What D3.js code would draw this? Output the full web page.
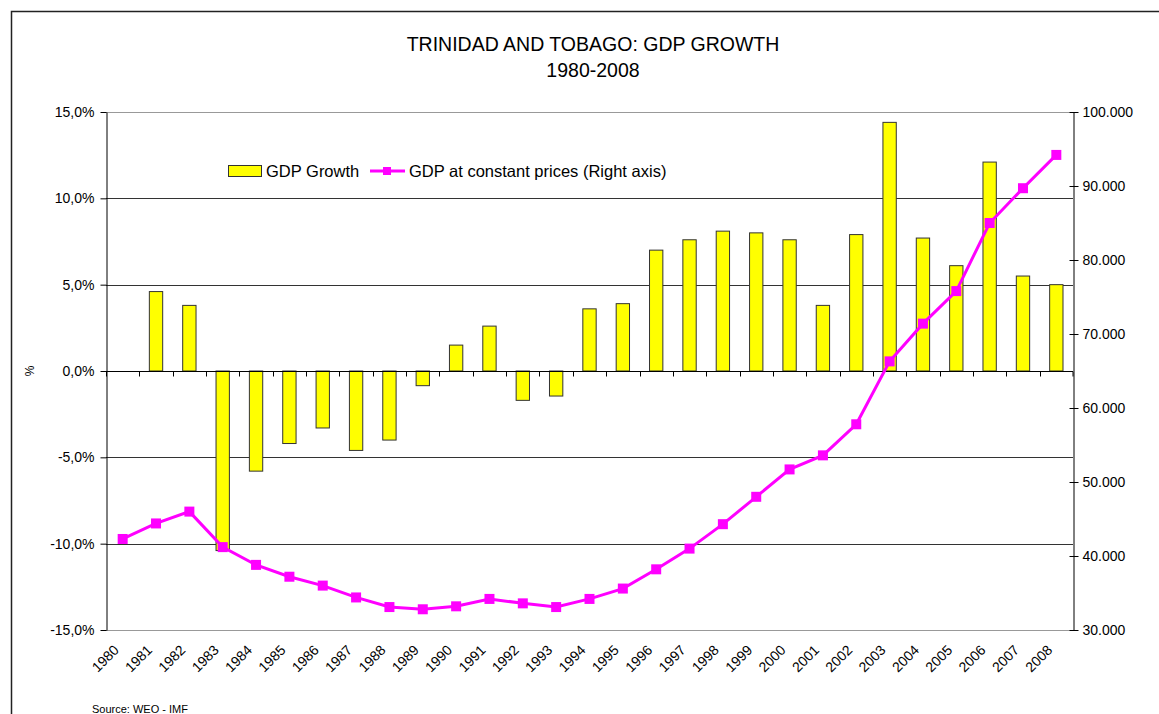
<!DOCTYPE html>
<html>
<head>
<meta charset="utf-8">
<script src="https://cdn.jsdelivr.net/npm/d3@7"></script>
<style>
	body { margin: 0; background: #fff; }
	svg { display: block; font-family: "Liberation Sans", Arial, sans-serif; }
</style>
</head>
<body>
<div class="chart"></div>
<script>
const years = ["1980","1981","1982","1983","1984","1985","1986","1987","1988","1989","1990","1991","1992","1993","1994",
	"1995","1996","1997","1998","1999","2000","2001","2002","2003","2004","2005","2006","2007","2008"];
// GDP growth, % (left axis)
const gdpGrowth = [null, 4.6, 3.8, -10.4, -5.8, -4.2, -3.3, -4.6, -4.0, -0.85, 1.5, 2.6, -1.7, -1.45, 3.6,
	3.9, 7.0, 7.6, 8.1, 8.0, 7.6, 3.8, 7.9, 14.4, 7.7, 6.1, 12.1, 5.5, 5.0];
// GDP at constant prices (right axis)
const gdpConstant = [42300, 44400, 46000, 41200, 38800, 37200, 36000, 34400, 33100, 32800, 33200, 34200, 33600, 33100, 34200,
	35600, 38200, 41000, 44300, 48000, 51700, 53600, 57800, 66300, 71400, 75800, 85000, 89700, 94200];
const leftTicks = [-15, -10, -5, 0, 5, 10, 15];
const rightTicks = [30000, 40000, 50000, 60000, 70000, 80000, 90000, 100000];

const width = 1159, height = 714;
const plot = {left: 106, right: 1073, top: 112, bottom: 630};
const barColor = "#ffff00";
const lineColor = "#ff00ff";

const locale = d3.formatLocale({decimal: ",", thousands: ".", grouping: [3], currency: ["", ""], minus: "-"});
const fmtLeft = d => locale.format(".1f")(d) + "%";
const fmtRight = locale.format(",.0f");

const svg = d3.select("div.chart").append("svg")
	.attr("width", width)
	.attr("height", height);

// chart frame
svg.append("path")
	.attr("d", "M11.5," + height + " V11.5 H" + width)
	.attr("fill", "none")
	.attr("stroke", "#222")
	.attr("stroke-width", 1.5);

const x = d3.scaleBand().domain(years).range([plot.left, plot.right]);
const yL = d3.scaleLinear().domain([-15, 15]).range([plot.bottom, plot.top]);
const yR = d3.scaleLinear().domain([30000, 100000]).range([plot.bottom, plot.top]);

// plot border top / bottom
svg.append("g").selectAll("line").data([15, -15]).join("line")
	.attr("x1", plot.left).attr("x2", plot.right)
	.attr("y1", d => Math.round(yL(d)) + 0.5).attr("y2", d => Math.round(yL(d)) + 0.5)
	.attr("stroke", "#999");

// gridlines
svg.append("g").selectAll("line").data(leftTicks.filter(d => Math.abs(d) < 15 && d !== 0)).join("line")
	.attr("x1", plot.left).attr("x2", plot.right)
	.attr("y1", d => Math.round(yL(d)) + 0.5).attr("y2", d => Math.round(yL(d)) + 0.5)
	.attr("stroke", "#333");

// bars
const barW = x.bandwidth() * 0.4;
svg.append("g").selectAll("rect").data(years.map((y, i) => ({year: y, v: gdpGrowth[i]})).filter(d => d.v !== null))
	.join("rect")
	.attr("x", d => x(d.year) + (x.bandwidth() - barW) / 2)
	.attr("y", d => yL(Math.max(0, d.v)))
	.attr("width", barW)
	.attr("height", d => Math.abs(yL(d.v) - yL(0)))
	.attr("fill", barColor)
	.attr("stroke", "#333")
	.attr("stroke-width", 1);

// category axis at zero
const zeroY = Math.round(yL(0)) + 0.5;
svg.append("line")
	.attr("x1", plot.left).attr("x2", plot.right)
	.attr("y1", zeroY).attr("y2", zeroY)
	.attr("stroke", "#000");
svg.append("g").selectAll("line").data(years.concat(["end"])).join("line")
	.attr("x1", d => d === "end" ? plot.right : Math.round(x(d)) + 0.5)
	.attr("x2", d => d === "end" ? plot.right : Math.round(x(d)) + 0.5)
	.attr("y1", zeroY).attr("y2", zeroY + 5)
	.attr("stroke", "#000");

// year labels
svg.append("g").selectAll("text").data(years).join("text")
	.attr("transform", d => "translate(" + (x(d) + x.bandwidth() / 2 - 3) + "," + (plot.bottom + 21) + ") rotate(-45)")
	.attr("text-anchor", "end")
	.attr("font-size", 14)
	.attr("fill", "#000")
	.text(d => d);

// left axis
const axL = svg.append("g")
	.attr("transform", "translate(" + (plot.left + 0.5) + ",0)")
	.call(d3.axisLeft(yL).tickValues(leftTicks).tickFormat(fmtLeft).tickSize(6).tickPadding(6).tickSizeOuter(0));
axL.select(".domain").attr("stroke", "#000");
axL.selectAll("text").attr("font-size", 14).attr("font-family", "Liberation Sans, Arial, sans-serif").attr("fill", "#000");

// right axis
const axR = svg.append("g")
	.attr("transform", "translate(" + (plot.right + 0.5) + ",0)")
	.call(d3.axisRight(yR).tickValues(rightTicks).tickFormat(fmtRight).tickSize(5).tickPadding(4).tickSizeOuter(0));
axR.select(".domain").attr("stroke", "#000");
axR.selectAll(".tick line").attr("x1", -4);
axR.selectAll("text").attr("font-size", 14).attr("font-family", "Liberation Sans, Arial, sans-serif").attr("fill", "#000");

// "%" axis title
svg.append("text")
	.attr("transform", "translate(34," + yL(0) + ") rotate(-90)")
	.attr("text-anchor", "middle")
	.attr("font-size", 12)
	.text("%");

// GDP at constant prices line
const pts = years.map((y, i) => [x(y) + x.bandwidth() / 2, yR(gdpConstant[i])]);
svg.append("path")
	.attr("d", d3.line()(pts))
	.attr("fill", "none")
	.attr("stroke", lineColor)
	.attr("stroke-width", 3);
svg.append("g").selectAll("rect").data(pts).join("rect")
	.attr("x", d => d[0] - 5).attr("y", d => d[1] - 5)
	.attr("width", 10).attr("height", 10)
	.attr("fill", lineColor);

// legend
const lg = svg.append("g");
lg.append("rect").attr("x", 228.5).attr("y", 165.5).attr("width", 33).attr("height", 11)
	.attr("fill", barColor).attr("stroke", "#333");
lg.append("text").attr("x", 266).attr("y", 177).attr("font-size", 16.5).text("GDP Growth");
lg.append("line").attr("x1", 370).attr("x2", 405).attr("y1", 171).attr("y2", 171)
	.attr("stroke", lineColor).attr("stroke-width", 3);
lg.append("rect").attr("x", 383).attr("y", 167).attr("width", 8).attr("height", 8).attr("fill", lineColor);
lg.append("text").attr("x", 409).attr("y", 177).attr("font-size", 16.5).text("GDP at constant prices (Right axis)");

// title
svg.append("text").attr("x", 593).attr("y", 51).attr("text-anchor", "middle")
	.attr("font-size", 19.5).text("TRINIDAD AND TOBAGO: GDP GROWTH");
svg.append("text").attr("x", 593).attr("y", 77).attr("text-anchor", "middle")
	.attr("font-size", 19.5).text("1980-2008");

// source
svg.append("text").attr("x", 92).attr("y", 713).attr("font-size", 11).text("Source: WEO - IMF");
</script>
</body>
</html>
